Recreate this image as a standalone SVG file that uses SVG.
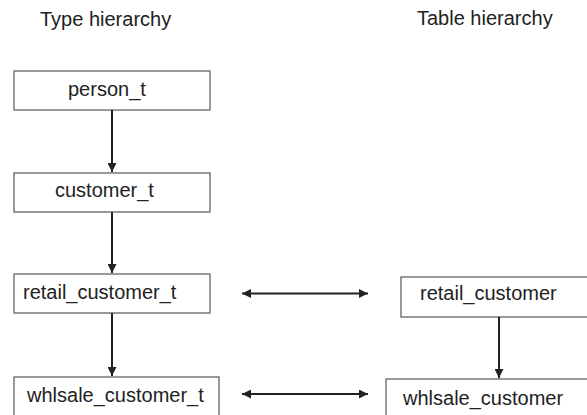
<svg xmlns="http://www.w3.org/2000/svg" width="587" height="415" viewBox="0 0 587 415">
<style>
.box{fill:#fff;stroke:#555;stroke-width:1.2}
.lbl{font-family:"Liberation Sans",Arial,sans-serif;font-size:20px;fill:#222}
.conn{stroke:#222;stroke-width:2;fill:none}
</style>
<defs>
<marker id="ah" viewBox="0 0 10 10" refX="10" refY="5" markerWidth="4.5" markerHeight="4.5" orient="auto-start-reverse" markerUnits="strokeWidth">
<path d="M0,0 L10,5 L0,10 z" fill="#222"/>
</marker>
</defs>
<rect width="587" height="415" fill="#fff"/>
<text class="lbl" x="40" y="26">Type hierarchy</text>
<text class="lbl" x="417" y="25">Table hierarchy</text>
<g id="person_t">
<rect class="box" x="14" y="71" width="196" height="39"/>
<text class="lbl" x="68" y="96">person_t</text>
</g>
<g id="customer_t">
<rect class="box" x="14" y="173" width="196" height="39"/>
<text class="lbl" x="55" y="197">customer_t</text>
</g>
<g id="retail_customer_t">
<rect class="box" x="14" y="274" width="196" height="39"/>
<text class="lbl" x="23" y="299">retail_customer_t</text>
</g>
<g id="whlsale_customer_t">
<rect class="box" x="14" y="377" width="205" height="45"/>
<text class="lbl" x="27" y="402">whlsale_customer_t</text>
</g>
<g id="retail_customer">
<rect class="box" x="401" y="277" width="200" height="40"/>
<text class="lbl" x="420" y="300">retail_customer</text>
</g>
<g id="whlsale_customer">
<rect class="box" x="386" y="379" width="215" height="45"/>
<text class="lbl" x="403" y="405">whlsale_customer</text>
</g>
<g id="connectors">
<line class="conn" x1="112" y1="110" x2="112" y2="172" marker-end="url(#ah)"/>
<line class="conn" x1="112" y1="212" x2="112" y2="273" marker-end="url(#ah)"/>
<line class="conn" x1="112" y1="313" x2="112" y2="376" marker-end="url(#ah)"/>
<line class="conn" x1="499" y1="317" x2="499" y2="378" marker-end="url(#ah)"/>
<line class="conn" x1="242" y1="293.5" x2="368" y2="293.5" marker-start="url(#ah)" marker-end="url(#ah)"/>
<line class="conn" x1="242" y1="394" x2="368" y2="394" marker-start="url(#ah)" marker-end="url(#ah)"/>
</g>
</svg>
